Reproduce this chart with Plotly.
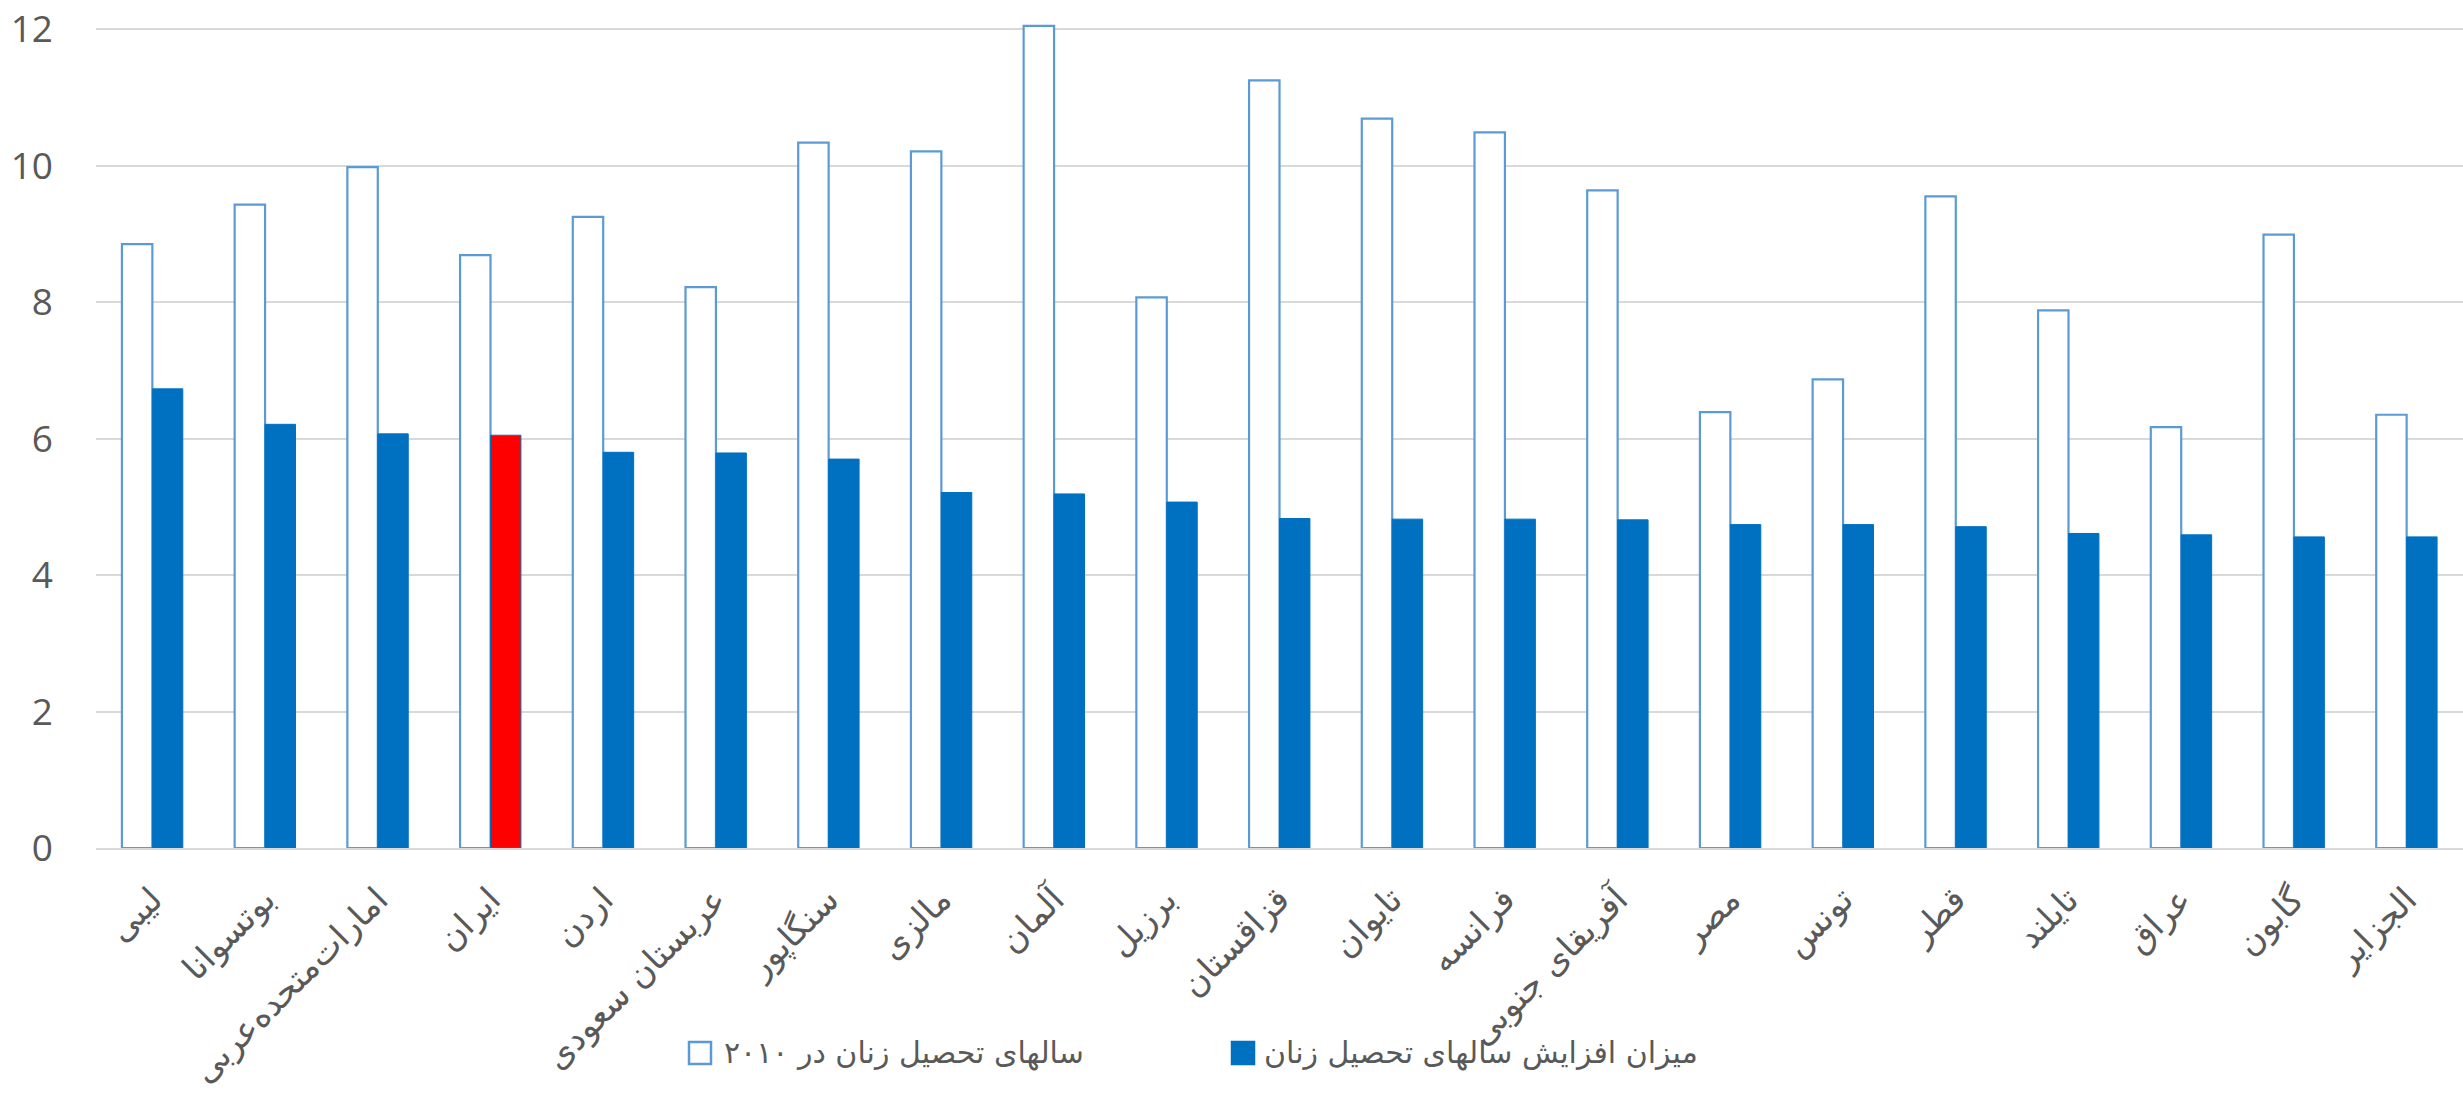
import plotly.graph_objects as go

countries = ["لیبی", "بوتسوانا", "امارات‌متحده‌عربی", "ایران", "اردن", "عربستان سعودی",
             "سنگاپور", "مالزی", "آلمان", "برزیل", "قزاقستان", "تایوان", "فرانسه",
             "آفریقای جنوبی", "مصر", "تونس", "قطر", "تایلند", "عراق", "گابون", "الجزایر"]

years_2010 = [8.85, 9.43, 9.98, 8.69, 9.25, 8.22, 10.34, 10.21, 12.05, 8.07, 11.25,
              10.69, 10.49, 9.64, 6.39, 6.87, 9.55, 7.88, 6.17, 8.99, 6.35]

increase = [6.73, 6.21, 6.07, 6.05, 5.80, 5.79, 5.70, 5.21, 5.19, 5.07, 4.83,
            4.82, 4.82, 4.81, 4.74, 4.74, 4.71, 4.61, 4.59, 4.56, 4.56]

series_names = ["سالهای تحصیل زنان در ۲۰۱۰", "میزان افزایش سالهای تحصیل زنان"]
highlight = "ایران"

y_ticks = [0, 2, 4, 6, 8, 10, 12]

WHITE_LINE = "#5B9BD5"
BLUE = "#0070C0"
fill_colors = ["#FF0000" if c == highlight else BLUE for c in countries]

fig = go.Figure()
fig.add_trace(go.Bar(
    x=countries, y=years_2010, name=series_names[0], showlegend=False,
    marker=dict(color="#FFFFFF", line=dict(color=WHITE_LINE, width=2.2)),
))
fig.add_trace(go.Bar(
    x=countries, y=increase, name=series_names[1], showlegend=False,
    marker=dict(color=fill_colors, line=dict(color=BLUE, width=1)),
))

# custom legend (larger symbols like the original)
PLOT_L, PLOT_W = 96, 2463 - 96
PLOT_B, PLOT_H = 848, 846


def px_x(p):
    return (p - PLOT_L) / PLOT_W


def px_y(p):
    return (PLOT_B - p) / PLOT_H


legend_items = [
    dict(name=series_names[0], sym_x=700, text_x=722, fill="#FFFFFF", line=WHITE_LINE),
    dict(name=series_names[1], sym_x=1243, text_x=1262, fill=BLUE, line=BLUE),
]
shapes = []
annotations = []
for it in legend_items:
    shapes.append(dict(
        type="rect", xref="paper", yref="paper",
        xsizemode="pixel", ysizemode="pixel",
        xanchor=px_x(it["sym_x"]), yanchor=px_y(1053),
        x0=-11, x1=11, y0=-11, y1=11,
        fillcolor=it["fill"], line=dict(color=it["line"], width=2.5),
    ))
    annotations.append(dict(
        xref="paper", yref="paper", x=px_x(it["text_x"]), y=px_y(1053),
        xanchor="left", yanchor="middle", showarrow=False,
        text=it["name"], font=dict(family="DejaVu Sans", size=30, color="#595959"),
    ))

fig.update_layout(
    width=2463, height=1095,
    margin=dict(l=PLOT_L, r=0, t=2, b=1095 - PLOT_B),
    paper_bgcolor="#FFFFFF", plot_bgcolor="#FFFFFF",
    barmode="group", bargap=0.46, bargroupgap=0,
    showlegend=False,
    shapes=shapes, annotations=annotations,
    xaxis=dict(
        type="category", range=[-0.5, 20.5],
        tickangle=-45, showgrid=False, showline=True, linecolor="#D9D9D9", linewidth=2,
        ticks="", ticklabelstandoff=16,
        tickfont=dict(family="DejaVu Sans", size=34, color="#595959"),
    ),
    yaxis=dict(
        range=[0, 12.4], tickvals=y_ticks, ticktext=[str(v) for v in y_ticks],
        showgrid=True, gridcolor="#D9D9D9", gridwidth=2, zeroline=False,
        showline=False, ticks="", ticklabelstandoff=42,
        tickfont=dict(family="Open Sans, sans-serif", size=37, color="#595959"),
    ),
)

fig.write_html("out.html")
